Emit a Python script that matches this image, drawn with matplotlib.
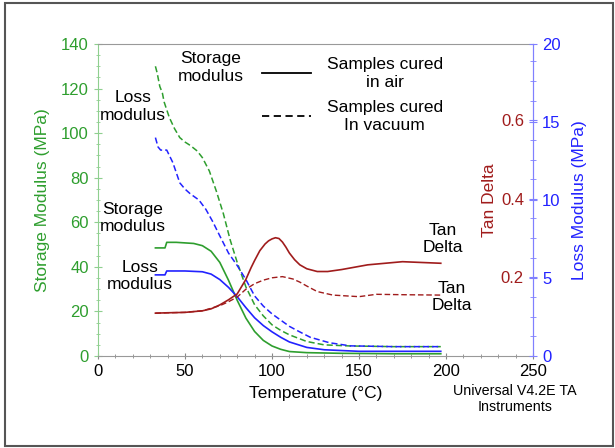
import matplotlib
matplotlib.use('Agg')
import matplotlib.pyplot as plt
from matplotlib.lines import Line2D
from matplotlib.patches import Rectangle
from matplotlib.ticker import MultipleLocator

plt.rcParams['font.family'] = ['Liberation Sans', 'DejaVu Sans']

# storage modulus, cured in air (MPa)
t_sa = [33, 38.5, 39.5, 45, 55, 60, 65, 70, 75, 80, 85, 90, 95, 100, 105, 110, 120, 140, 170, 197]
e_sa = [48.5, 48.5, 51, 51, 50.5, 49.5, 47, 42, 34, 25, 17, 11, 7, 4.5, 3, 2, 1.5, 1.2, 1, 1]

# loss modulus, cured in air (MPa)
t_la = [33, 38.5, 39.5, 50, 60, 65, 70, 75, 80, 85, 90, 95, 100, 105, 110, 120, 130, 150, 175, 197]
e_la = [5.2, 5.2, 5.45, 5.45, 5.4, 5.25, 4.9, 4.4, 3.8, 3.1, 2.45, 1.95, 1.55, 1.2, 0.9, 0.55, 0.4, 0.3, 0.3, 0.3]

# storage modulus, cured in vacuum (MPa)
t_sv = [33, 34, 35.5, 37, 38, 41, 44, 47, 50, 53, 57, 60, 64, 68, 72, 76, 80, 85, 90, 95,
        100, 105, 110, 120, 130, 145, 170, 197]
e_sv = [130, 127, 121, 118, 114, 107, 102, 98, 96, 94.5, 92, 89, 83, 74, 64, 52, 42, 31, 23, 18,
        14, 11.5, 9.5, 6.5, 5, 4.5, 4.2, 4.2]

# loss modulus, cured in vacuum (MPa)
t_lv = [33, 34.5, 36, 39.5, 43, 47, 50, 53, 58, 62, 66, 70, 75, 80, 85, 90, 95, 100, 105,
        110, 115, 122, 133, 145, 170, 197]
e_lv = [14.0, 13.4, 13.2, 13.2, 12.4, 11.1, 10.7, 10.4, 10.0, 9.4, 8.6, 7.7, 6.6, 5.8, 4.9,
        3.85, 3.2, 2.7, 2.3, 1.9, 1.6, 1.2, 0.85, 0.65, 0.6, 0.6]

# tan delta
t_ta = [33, 40, 50, 60, 65, 70, 75, 80, 85, 88, 90, 93, 96, 98, 100, 102, 104, 106, 108, 110,
        113, 116, 120, 126, 132, 140, 155, 175, 197]
d_ta = [0.109, 0.11, 0.111, 0.115, 0.12, 0.13, 0.143, 0.158, 0.195, 0.225, 0.243, 0.268,
        0.285, 0.293, 0.298, 0.301, 0.299, 0.29, 0.277, 0.262, 0.245, 0.232, 0.222, 0.215,
        0.215, 0.22, 0.232, 0.24, 0.236]
t_tv = [33, 40, 50, 60, 70, 75, 80, 85, 90, 95, 100, 106, 112, 116, 120, 126, 135, 150, 160,
        175, 197]
d_tv = [0.109, 0.11, 0.111, 0.115, 0.128, 0.138, 0.15, 0.17, 0.184, 0.193, 0.199, 0.202,
        0.196, 0.188, 0.178, 0.164, 0.155, 0.151, 0.157, 0.156, 0.155]

green = '#2e9e2e'
blue = '#2222ff'
red = '#a01c1c'

fig = plt.figure(figsize=(6.15, 4.48), dpi=100)
fig.patches.append(Rectangle((5 / 615, 2 / 448), 608 / 615, 443 / 448, transform=fig.transFigure,
                             fill=False, edgecolor='#555555', linewidth=1.5))
ax = fig.add_axes([98 / 615, 92 / 448, 435 / 615, 312 / 448])
ax2 = ax.twinx()
ax3 = ax.twinx()

ax.plot(t_sa, e_sa, color=green, lw=1.2)
ax.plot(t_sv, e_sv, color=green, lw=1.1, ls=(0, (4, 2)))
ax2.plot(t_la, e_la, color=blue, lw=1.2)
ax2.plot(t_lv, e_lv, color=blue, lw=1.1, ls=(0, (4, 2)))
ax3.plot(t_ta, d_ta, color=red, lw=1.2)
ax3.plot(t_tv, d_tv, color=red, lw=1.0, ls=(0, (4, 2)))

ax.set_xlim(0, 250)
ax.set_ylim(0, 140)
ax2.set_ylim(0, 20)
ax3.set_ylim(0, 0.794)

ax.set_xticks([0, 50, 100, 150, 200, 250])
ax.xaxis.set_minor_locator(MultipleLocator(10))
ax.yaxis.set_minor_locator(MultipleLocator(5))
ax.tick_params(axis='x', which='both', direction='inout', colors='#888888', labelcolor='black',
               labelsize=12)
ax.tick_params(axis='x', which='major', length=5)
ax.tick_params(axis='x', which='minor', length=3)
ax.tick_params(axis='y', which='both', direction='inout', colors='#8fcf8f', labelcolor=green,
               labelsize=12)
ax.tick_params(axis='y', which='major', length=6)
ax.tick_params(axis='y', which='minor', length=3)
ax.set_yticks([0, 20, 40, 60, 80, 100, 120, 140])

ax2.set_yticks([0, 5, 10, 15, 20])
ax2.tick_params(axis='y', direction='inout', length=6, colors='#8080ff', labelcolor=blue,
                labelsize=12)

ax3.spines['left'].set_position(('axes', 1.0))
ax3.yaxis.set_ticks_position('left')
ax3.yaxis.set_label_position('left')
ax3.set_yticks([0.2, 0.4, 0.6])
ax3.yaxis.set_minor_locator(MultipleLocator(0.05))
ax3.tick_params(axis='y', which='both', direction='inout', colors='#8080ff', labelcolor=red,
                labelsize=12)
ax3.tick_params(axis='y', which='major', length=6)
ax3.tick_params(axis='y', which='minor', length=4)

ax.spines['top'].set_color('#999999')
ax.spines['bottom'].set_color('#999999')
ax.spines['left'].set_color('#8fcf8f')
ax.spines['right'].set_visible(False)
ax2.spines['right'].set_color('#8080ff')
for a in (ax2, ax3):
    a.spines['top'].set_visible(False)
    a.spines['bottom'].set_visible(False)
ax2.spines['left'].set_visible(False)
ax3.spines['right'].set_visible(False)
ax3.spines['left'].set_color('#8080ff')

ax.set_xlabel('Temperature (°C)', fontsize=12.5, labelpad=5)
ax.set_ylabel('Storage Modulus (MPa)', color=green, fontsize=12.5, labelpad=8)
ax2.set_ylabel('Loss Modulus (MPa)', color=blue, fontsize=12.5, labelpad=8)
ax3.set_ylabel('Tan Delta', color=red, fontsize=12.5, labelpad=3)

kw = dict(fontsize=12.5, ha='center', va='center', multialignment='center')
ax.text(65, 129.5, 'Storage\nmodulus', **kw)
ax.text(20, 112, 'Loss\nmodulus', **kw)
ax.text(20, 62, 'Storage\nmodulus', **kw)
ax.text(24, 36, 'Loss\nmodulus', **kw)
ax.text(198, 52.5, 'Tan\nDelta', **kw)
ax.text(203.5, 26.5, 'Tan\nDelta', **kw)

handles = [Line2D([], [], color='black', lw=1.3),
           Line2D([], [], color='black', lw=1.3, ls=(0, (4, 2.5)))]
leg = ax.legend(handles, ['Samples cured\nin air', 'Samples cured\nIn vacuum'],
                loc='upper left', bbox_to_anchor=(0.358, 0.985), frameon=False,
                fontsize=12.5, handlelength=2.8, handletextpad=0.9, labelspacing=0.6,
                borderpad=0)
for t in leg.get_texts():
    t.set_multialignment('center')

fig.text(515 / 615, 1 - 399 / 448, 'Universal V4.2E TA\nInstruments', fontsize=10.3,
         ha='center', va='center', multialignment='center', linespacing=1.25)

fig.savefig('out.png', dpi=100)
